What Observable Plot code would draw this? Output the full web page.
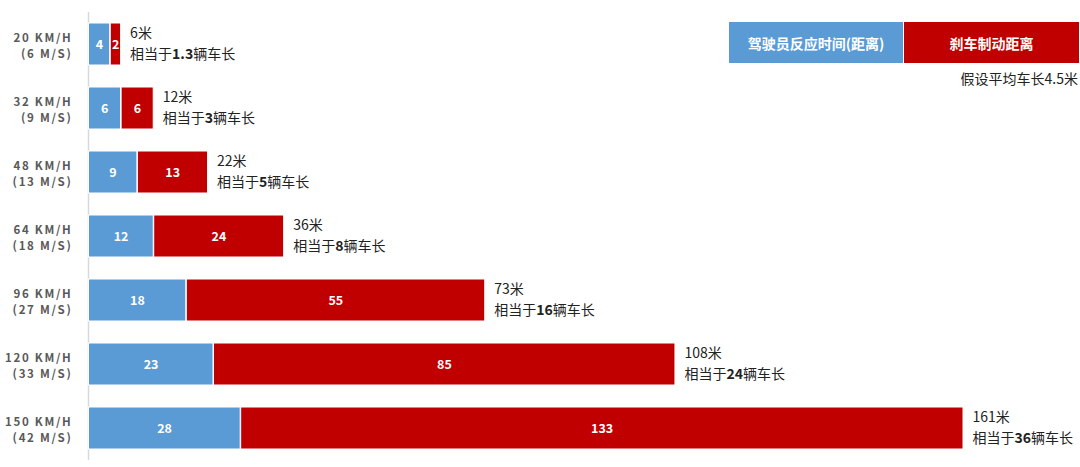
<!DOCTYPE html>
<html>
<head>
<meta charset="utf-8">
<script src="https://cdn.jsdelivr.net/npm/d3@7"></script>
<script src="https://cdn.jsdelivr.net/npm/@observablehq/plot@0.6"></script>
<style>
  body { margin: 0; background: #fff; font-family: "Noto Sans CJK SC", "Noto Sans", sans-serif; }
  #wrap { position: relative; width: 1080px; height: 467px; overflow: hidden; }
  .leg { position: absolute; top: 22px; height: 41px; color: #fff; font-weight: bold; font-size: 14px;
         display: flex; align-items: center; justify-content: center; }
  #note { position: absolute; right: 2px; top: 68px; font-size: 14px; color: #222; }
  g[aria-label="y-axis tick label"] text { letter-spacing: 1.7px; }
</style>
</head>
<body>
<div id="wrap">
  <div id="chart"></div>
  <div class="leg" style="left:729px;width:174px;background:#5b9bd5">驾驶员反应时间(距离)</div>
  <div class="leg" style="left:904px;width:175px;background:#c00000">刹车制动距离</div>
  <div id="note">假设平均车长4.5米</div>
</div>
<script>
const speeds = ["20 KM/H","32 KM/H","48 KM/H","64 KM/H","96 KM/H","120 KM/H","150 KM/H"];
const mps = ["(6 M/S)","(9 M/S)","(13 M/S)","(18 M/S)","(27 M/S)","(33 M/S)","(42 M/S)"];
const reaction = [4,6,9,12,18,23,28];
const braking = [2,6,13,24,55,85,133];
const totals = [6,12,22,36,73,108,161];
const cars = ["1.3","3","5","8","16","24","36"];
const seriesNames = ["驾驶员反应时间(距离)","刹车制动距离"];
const seriesColors = ["#5b9bd5","#c00000"];

const rows = [];
speeds.forEach((s,i) => {
  rows.push({speed: s, type: seriesNames[0], value: reaction[i]});
  rows.push({speed: s, type: seriesNames[1], value: braking[i]});
});
const totalRows = speeds.map((s,i) => ({speed: s, total: totals[i], line1: `${totals[i]}米`, line2: `相当于${cars[i]}辆车长`}));

const plot = Plot.plot({
  width: 1080,
  height: 467,
  marginLeft: 88,
  marginRight: 117,
  marginTop: 12,
  marginBottom: 7,
  style: {fontFamily: '"Noto Sans CJK SC", "Noto Sans", sans-serif', background: "#fff"},
  x: {domain: [0, 161], axis: null},
  y: {domain: speeds, paddingInner: 0.344, paddingOuter: 0.172, label: null},
  color: {domain: seriesNames, range: seriesColors},
  marks: [
    Plot.ruleX([0], {stroke: "#d9d9d9", strokeWidth: 1.5}),
    Plot.barX(rows, Plot.stackX({x: "value", y: "speed", fill: "type", stroke: "#fff", strokeWidth: 1, insetLeft: 0.5})),
    Plot.text(rows, Plot.stackX({x: "value", y: "speed", text: "value", fill: "#fff", fontWeight: "bold", fontSize: 12.5})),
    Plot.text(totalRows, {x: "total", y: "speed", text: "line1", textAnchor: "start", dx: 9, dy: -10.5, fontSize: 14, fill: "#222"}),
    Plot.text(totalRows, {x: "total", y: "speed", text: "line2", textAnchor: "start", dx: 9, dy: 10, fontSize: 14, fill: "#222", className: "tot"}),
    Plot.axisY({tickSize: 0, tickPadding: 16, fontWeight: "bold", fontSize: 11.5, fill: "#595959", lineHeight: 1.4,
      tickFormat: d => d + "\n" + mps[speeds.indexOf(d)]})
  ]
});
document.getElementById("chart").appendChild(plot);

// split "相当于N辆车长" into three adjacent text pieces, the number in bold
d3.select(plot).selectAll(".tot text").each(function() {
  const t = this.textContent;
  const m = t.match(/^(相当于)(.+)(辆车长)$/);
  if (!m) return;
  const parts = [m[1], m[2], m[3]];
  let offset = +(this.getAttribute("x") || 0);
  this.textContent = parts[0];
  offset += this.getComputedTextLength();
  let prev = this;
  for (let k = 1; k < 3; k++) {
    const c = this.cloneNode(false);
    c.textContent = parts[k];
    c.setAttribute("x", offset);
    if (k === 1) c.setAttribute("font-weight", "bold");
    prev.parentNode.insertBefore(c, prev.nextSibling);
    offset += c.getComputedTextLength();
    prev = c;
  }
});
</script>
</body>
</html>
